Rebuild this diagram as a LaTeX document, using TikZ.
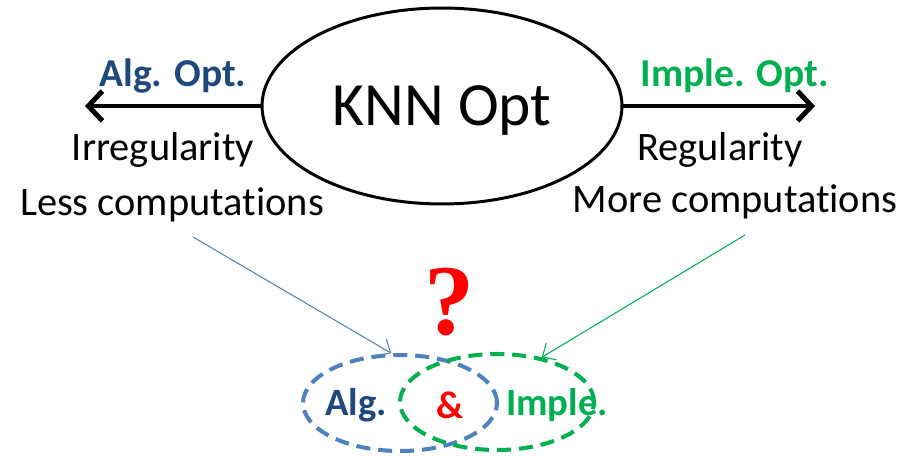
\documentclass[tikz,border=0pt]{standalone}
\usepackage{fontspec}
\setmainfont{Carlito}[Ligatures=NoCommon]
\newfontfamily\qfont{Liberation Serif}
\usetikzlibrary{shapes.geometric,arrows.meta,positioning}
\definecolor{algblue}{RGB}{31,73,125}
\definecolor{setblue}{RGB}{79,129,189}
\definecolor{implgreen}{RGB}{0,176,80}

\begin{document}
\begin{tikzpicture}[x=0.02cm,y=-0.02cm,
  bigarrow/.style={line width=2.8pt,-{Straight Barb[length=8pt,width=17pt,line width=2.8pt]}},
  thinarrow/.style={line width=0.6pt,-{Straight Barb[length=6pt,width=11pt]}},
  labeltext/.style={font=\fontsize{23}{26}\selectfont},
  optlabel/.style={font=\bfseries\fontsize{22.5}{26}\selectfont},
  settext/.style={font=\bfseries\fontsize{22}{26}\selectfont},
  setellipse/.style={ellipse,line width=2.3pt,dash pattern=on 8pt off 4.5pt,
    minimum width=3.88cm,minimum height=1.92cm,inner sep=0pt}]

\useasboundingbox (0,0) rectangle (904,456);

\node[draw,ellipse,line width=1.7pt,minimum width=7.2cm,minimum height=3.92cm,inner sep=0pt,
  text depth=0pt,font=\fontsize{35}{40}\selectfont] (knn) at (442,106) {KNN Opt};
\coordinate (algend) at (85,106);
\coordinate (impend) at (815,106);
\draw[bigarrow] (knn.west) -- (algend);
\draw[bigarrow] (knn.east) -- (impend);

\node[optlabel,text=algblue] (algopt) at (173,76) {Alg. Opt.};
\node[optlabel,text=implgreen] (impopt) at (735,76) {Imple. Opt.};
\node[labeltext] (irr) at (163,150) {Irregularity};
\node[labeltext] (less) at (172,205) {Less computations};
\node[labeltext] (reg) at (720,150) {Regularity};
\node[labeltext] (more) at (735,202) {More computations};

\node[text=red,font=\qfont\bfseries\fontsize{57}{60}\selectfont] (q) at (450,302) {?};

% the two sets
\node[settext,text=algblue] (alg) at (356,405) {Alg.};
\node[settext,text=red] (amp) at (450,405) {\&};
\node[settext,text=implgreen] (imp) at (557,405) {Imple.};
\node[setellipse,draw=setblue] (algset) at (400,403) {};
\node[setellipse,draw=implgreen] (impset) at (497,402) {};

\coordinate (lessfoot) at (193,237);
\coordinate (morefoot) at (745,235);
\draw[thinarrow,setblue] (lessfoot) -- (algset.100);
\draw[thinarrow,implgreen] (morefoot) -- (impset.45);
\end{tikzpicture}
\end{document}
